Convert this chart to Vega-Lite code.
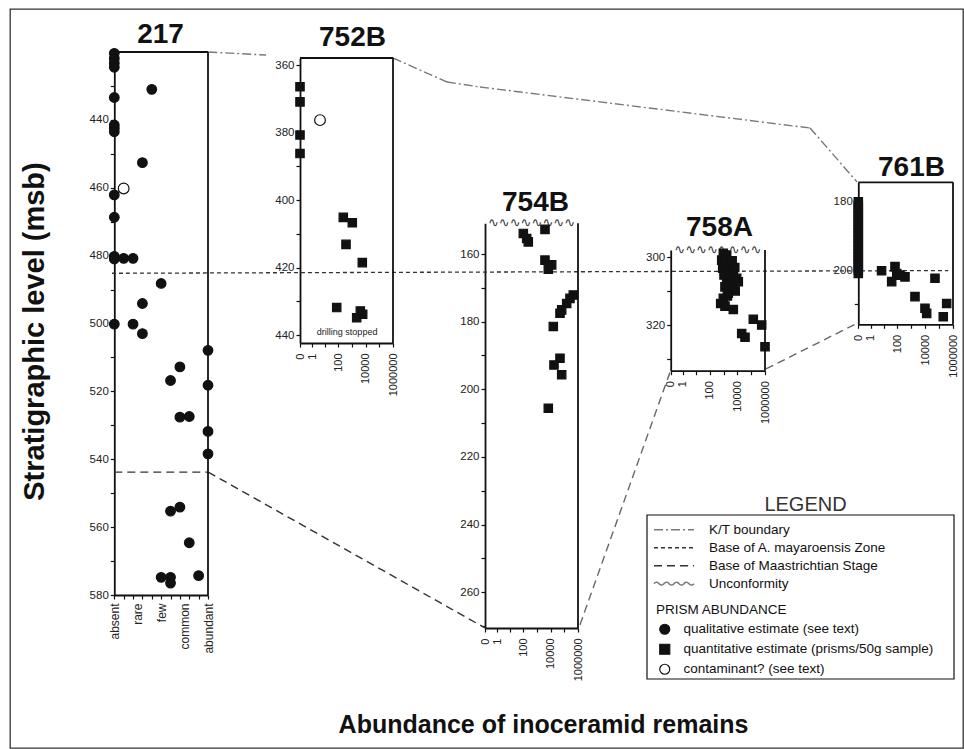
{
"$schema": "https://vega.github.io/schema/vega-lite/v6.json",
"width": 953, "height": 739,
"autosize": "none",
"padding": {"left": 10, "top": 9, "right": 1, "bottom": 1},
"background": "white",
"data": {"values": [{}]},
"datasets": {
"prisms": [
{"site":"217","abundance":0,"depth":420.4,"estimate":"qualitative"},
{"site":"217","abundance":0,"depth":421.9,"estimate":"qualitative"},
{"site":"217","abundance":0,"depth":423.3,"estimate":"qualitative"},
{"site":"217","abundance":0,"depth":424.5,"estimate":"qualitative"},
{"site":"217","abundance":4,"depth":431,"estimate":"qualitative"},
{"site":"217","abundance":0,"depth":433.4,"estimate":"qualitative"},
{"site":"217","abundance":0,"depth":441.5,"estimate":"qualitative"},
{"site":"217","abundance":0,"depth":442.5,"estimate":"qualitative"},
{"site":"217","abundance":0,"depth":443.5,"estimate":"qualitative"},
{"site":"217","abundance":3,"depth":452.6,"estimate":"qualitative"},
{"site":"217","abundance":1,"depth":460.2,"estimate":"contaminant"},
{"site":"217","abundance":0,"depth":462.1,"estimate":"qualitative"},
{"site":"217","abundance":0,"depth":468.7,"estimate":"qualitative"},
{"site":"217","abundance":0,"depth":480.2,"estimate":"qualitative"},
{"site":"217","abundance":0,"depth":481,"estimate":"qualitative"},
{"site":"217","abundance":1,"depth":480.8,"estimate":"qualitative"},
{"site":"217","abundance":2,"depth":480.8,"estimate":"qualitative"},
{"site":"217","abundance":5,"depth":488.2,"estimate":"qualitative"},
{"site":"217","abundance":3,"depth":494.1,"estimate":"qualitative"},
{"site":"217","abundance":0,"depth":500.2,"estimate":"qualitative"},
{"site":"217","abundance":2,"depth":500.2,"estimate":"qualitative"},
{"site":"217","abundance":3,"depth":503,"estimate":"qualitative"},
{"site":"217","abundance":10,"depth":507.9,"estimate":"qualitative"},
{"site":"217","abundance":7,"depth":512.8,"estimate":"qualitative"},
{"site":"217","abundance":6,"depth":516.8,"estimate":"qualitative"},
{"site":"217","abundance":10,"depth":518.2,"estimate":"qualitative"},
{"site":"217","abundance":7,"depth":527.6,"estimate":"qualitative"},
{"site":"217","abundance":8,"depth":527.4,"estimate":"qualitative"},
{"site":"217","abundance":10,"depth":531.8,"estimate":"qualitative"},
{"site":"217","abundance":10,"depth":538.4,"estimate":"qualitative"},
{"site":"217","abundance":7,"depth":554.1,"estimate":"qualitative"},
{"site":"217","abundance":6,"depth":555.3,"estimate":"qualitative"},
{"site":"217","abundance":8,"depth":564.6,"estimate":"qualitative"},
{"site":"217","abundance":5,"depth":574.8,"estimate":"qualitative"},
{"site":"217","abundance":6,"depth":574.8,"estimate":"qualitative"},
{"site":"217","abundance":6,"depth":576.5,"estimate":"qualitative"},
{"site":"217","abundance":9,"depth":574.3,"estimate":"qualitative"},
{"site":"752B","abundance":0,"depth":366.4,"estimate":"quantitative"},
{"site":"752B","abundance":0,"depth":370.9,"estimate":"quantitative"},
{"site":"752B","abundance":0,"depth":380.7,"estimate":"quantitative"},
{"site":"752B","abundance":0,"depth":386.2,"estimate":"quantitative"},
{"site":"752B","abundance":4.25,"depth":376.3,"estimate":"contaminant"},
{"site":"752B","abundance":225,"depth":405.1,"estimate":"quantitative"},
{"site":"752B","abundance":1030,"depth":406.7,"estimate":"quantitative"},
{"site":"752B","abundance":356,"depth":413.1,"estimate":"quantitative"},
{"site":"752B","abundance":5590,"depth":418.5,"estimate":"quantitative"},
{"site":"752B","abundance":74,"depth":431.8,"estimate":"quantitative"},
{"site":"752B","abundance":2170,"depth":434.8,"estimate":"quantitative"},
{"site":"752B","abundance":5970,"depth":433.8,"estimate":"quantitative"},
{"site":"752B","abundance":4000,"depth":432.8,"estimate":"quantitative"},
{"site":"754B","abundance":97,"depth":153.9,"estimate":"quantitative"},
{"site":"754B","abundance":172,"depth":155.4,"estimate":"quantitative"},
{"site":"754B","abundance":225,"depth":156.4,"estimate":"quantitative"},
{"site":"754B","abundance":3780,"depth":152.7,"estimate":"quantitative"},
{"site":"754B","abundance":3780,"depth":161.8,"estimate":"quantitative"},
{"site":"754B","abundance":11750,"depth":163.2,"estimate":"quantitative"},
{"site":"754B","abundance":6610,"depth":164.5,"estimate":"quantitative"},
{"site":"754B","abundance":451000,"depth":172.1,"estimate":"quantitative"},
{"site":"754B","abundance":258000,"depth":173.1,"estimate":"quantitative"},
{"site":"754B","abundance":148000,"depth":174.6,"estimate":"quantitative"},
{"site":"754B","abundance":63600,"depth":176.5,"estimate":"quantitative"},
{"site":"754B","abundance":47700,"depth":177.5,"estimate":"quantitative"},
{"site":"754B","abundance":15400,"depth":181.4,"estimate":"quantitative"},
{"site":"754B","abundance":47700,"depth":190.8,"estimate":"quantitative"},
{"site":"754B","abundance":17300,"depth":192.8,"estimate":"quantitative"},
{"site":"754B","abundance":63600,"depth":195.7,"estimate":"quantitative"},
{"site":"754B","abundance":6610,"depth":205.6,"estimate":"quantitative"},
{"site":"758A","abundance":960,"depth":298.8,"estimate":"quantitative"},
{"site":"758A","abundance":1690,"depth":299.3,"estimate":"quantitative"},
{"site":"758A","abundance":735,"depth":300.8,"estimate":"quantitative"},
{"site":"758A","abundance":1500,"depth":301.3,"estimate":"quantitative"},
{"site":"758A","abundance":2930,"depth":302.3,"estimate":"quantitative"},
{"site":"758A","abundance":868,"depth":303.2,"estimate":"quantitative"},
{"site":"758A","abundance":2210,"depth":303.8,"estimate":"quantitative"},
{"site":"758A","abundance":5085,"depth":304.3,"estimate":"quantitative"},
{"site":"758A","abundance":1080,"depth":305.2,"estimate":"quantitative"},
{"site":"758A","abundance":3890,"depth":305.7,"estimate":"quantitative"},
{"site":"758A","abundance":8955,"depth":306.2,"estimate":"quantitative"},
{"site":"758A","abundance":1690,"depth":307.2,"estimate":"quantitative"},
{"site":"758A","abundance":5085,"depth":307.7,"estimate":"quantitative"},
{"site":"758A","abundance":11700,"depth":307.2,"estimate":"quantitative"},
{"site":"758A","abundance":1270,"depth":308.7,"estimate":"quantitative"},
{"site":"758A","abundance":3890,"depth":309.2,"estimate":"quantitative"},
{"site":"758A","abundance":2210,"depth":310.6,"estimate":"quantitative"},
{"site":"758A","abundance":960,"depth":312.1,"estimate":"quantitative"},
{"site":"758A","abundance":622,"depth":313.6,"estimate":"quantitative"},
{"site":"758A","abundance":1270,"depth":314.4,"estimate":"quantitative"},
{"site":"758A","abundance":5085,"depth":315.4,"estimate":"quantitative"},
{"site":"758A","abundance":1400,"depth":300.0,"estimate":"quantitative"},
{"site":"758A","abundance":4200,"depth":301.0,"estimate":"quantitative"},
{"site":"758A","abundance":6500,"depth":303.0,"estimate":"quantitative"},
{"site":"758A","abundance":2600,"depth":306.5,"estimate":"quantitative"},
{"site":"758A","abundance":7000,"depth":309.9,"estimate":"quantitative"},
{"site":"758A","abundance":1900,"depth":311.4,"estimate":"quantitative"},
{"site":"758A","abundance":142000,"depth":318.3,"estimate":"quantitative"},
{"site":"758A","abundance":577000,"depth":320,"estimate":"quantitative"},
{"site":"758A","abundance":20600,"depth":322.5,"estimate":"quantitative"},
{"site":"758A","abundance":35700,"depth":323.6,"estimate":"quantitative"},
{"site":"758A","abundance":1000000,"depth":326.4,"estimate":"quantitative"},
{"site":"761B","abundance":0,"depth":180,"estimate":"quantitative"},
{"site":"761B","abundance":0,"depth":181,"estimate":"quantitative"},
{"site":"761B","abundance":0,"depth":182,"estimate":"quantitative"},
{"site":"761B","abundance":0,"depth":183,"estimate":"quantitative"},
{"site":"761B","abundance":0,"depth":184,"estimate":"quantitative"},
{"site":"761B","abundance":0,"depth":185,"estimate":"quantitative"},
{"site":"761B","abundance":0,"depth":186,"estimate":"quantitative"},
{"site":"761B","abundance":0,"depth":187,"estimate":"quantitative"},
{"site":"761B","abundance":0,"depth":188,"estimate":"quantitative"},
{"site":"761B","abundance":0,"depth":189,"estimate":"quantitative"},
{"site":"761B","abundance":0,"depth":190,"estimate":"quantitative"},
{"site":"761B","abundance":0,"depth":191,"estimate":"quantitative"},
{"site":"761B","abundance":0,"depth":192,"estimate":"quantitative"},
{"site":"761B","abundance":0,"depth":193,"estimate":"quantitative"},
{"site":"761B","abundance":0,"depth":194,"estimate":"quantitative"},
{"site":"761B","abundance":0,"depth":195,"estimate":"quantitative"},
{"site":"761B","abundance":0,"depth":196,"estimate":"quantitative"},
{"site":"761B","abundance":0,"depth":197,"estimate":"quantitative"},
{"site":"761B","abundance":0,"depth":198,"estimate":"quantitative"},
{"site":"761B","abundance":0,"depth":199,"estimate":"quantitative"},
{"site":"761B","abundance":0,"depth":200,"estimate":"quantitative"},
{"site":"761B","abundance":0,"depth":201,"estimate":"quantitative"},
{"site":"761B","abundance":7,"depth":200.2,"estimate":"quantitative"},
{"site":"761B","abundance":66,"depth":199.0,"estimate":"quantitative"},
{"site":"761B","abundance":38,"depth":203.4,"estimate":"quantitative"},
{"site":"761B","abundance":151,"depth":201.5,"estimate":"quantitative"},
{"site":"761B","abundance":347,"depth":202.0,"estimate":"quantitative"},
{"site":"761B","abundance":88,"depth":201.0,"estimate":"quantitative"},
{"site":"761B","abundance":1824,"depth":207.8,"estimate":"quantitative"},
{"site":"761B","abundance":9574,"depth":211.2,"estimate":"quantitative"},
{"site":"761B","abundance":12700,"depth":212.7,"estimate":"quantitative"},
{"site":"761B","abundance":50350,"depth":202.4,"estimate":"quantitative"},
{"site":"761B","abundance":350000,"depth":209.8,"estimate":"quantitative"},
{"site":"761B","abundance":199000,"depth":213.7,"estimate":"quantitative"}
],
"boundaries": [
{"boundary":"Base of A. mayaroensis Zone","depth":485.2},
{"boundary":"Base of Maastrichtian Stage","depth":543.8}
]
},
"config": {
 "font": "Liberation Sans",
 "view": {"stroke": "#333", "strokeWidth": 1.3},
 "axis": {"grid": false, "labelOverlap": false, "labelFlush": false, "labelFont": "Liberation Sans", "labelFontSize": 11.5, "labelColor": "#222", "tickColor": "#111", "domainColor": "#111", "domainWidth": 1.8, "tickWidth": 1.2, "tickSize": 4, "titleFont": "Liberation Sans", "titleColor": "#111"},
 "legend": {"labelFont": "Liberation Sans", "titleFont": "Liberation Sans"}
},
"layer": [
 {
  "data": {"name": "boundaries"},
  "transform": [{"filter": "datum.boundary == 'Base of A. mayaroensis Zone'"}],
  "mark": {"type": "rule", "strokeWidth": 1.3},
  "encoding": {
   "x": {"datum": -0.25, "type": "quantitative", "scale": {"domain":[0,10],"range":[104.3,198],"nice":false,"zero":false}, "axis": null},
   "x2": {"datum": 89},
   "y": {"field": "depth", "type": "quantitative", "scale": {"domain":[420,580],"range":[43,586],"nice":false,"zero":false}, "axis": null},
   "y2": {"datum": 484.4},
   "color": {"field": "boundary", "type": "nominal", "scale": {"domain":["K/T boundary","Base of A. mayaroensis Zone","Base of Maastrichtian Stage","Unconformity"],"range":["#7a7a7a","#333333","#333333","#7a7a7a"]}, "legend": {"orient":"none","legendX":643,"legendY":512,"title":null,"symbolType":"stroke","symbolSize":1600,"symbolStrokeWidth":1.5,"clipHeight":17.3,"labelOffset":14,"labelFontSize":13.5,"padding":0,"rowPadding":0,"labelLimit":320,"labelColor":"#111","encode":{"symbols":{"update":{"shape":{"signal":"datum.value === 'Unconformity' ? 'M-1,0 Q-0.875,-0.14 -0.75,0 T-0.5,0 T-0.25,0 T0,0 T0.25,0 T0.5,0 T0.75,0 T1,0' : 'stroke'"},"fill":{"value":"transparent"}}}}}},
   "strokeDash": {"field": "boundary", "type": "nominal", "scale": {"domain":["K/T boundary","Base of A. mayaroensis Zone","Base of Maastrichtian Stage","Unconformity"],"range":[[9,3,2,3],[4,3],[8,5],[1,0]]}, "legend": {"orient":"none","legendX":643,"legendY":512,"title":null,"symbolType":"stroke","symbolSize":1600,"symbolStrokeWidth":1.5,"clipHeight":17.3,"labelOffset":14,"labelFontSize":13.5,"padding":0,"rowPadding":0,"labelLimit":320,"labelColor":"#111","encode":{"symbols":{"update":{"shape":{"signal":"datum.value === 'Unconformity' ? 'M-1,0 Q-0.875,-0.14 -0.75,0 T-0.5,0 T-0.25,0 T0,0 T0.25,0 T0.5,0 T0.75,0 T1,0' : 'stroke'"},"fill":{"value":"transparent"}}}}}}
  }
 },
 {
  "data": {"name": "boundaries"},
  "transform": [{"filter": "datum.boundary == 'Base of Maastrichtian Stage'"}],
  "mark": {"type": "rule", "strokeWidth": 1.4},
  "encoding": {
   "x": {"datum": 0, "type": "quantitative", "scale": {"domain":[0,10],"range":[104.3,198],"nice":false,"zero":false},
     "axis": {"orient": "bottom", "offset": -153, "values": [0,1,2,3,4,5,6,7,8,9,10], "labels": false, "ticks": true, "domain": true, "title": null}},
   "x2": {"datum": 10},
   "y": {"field": "depth", "type": "quantitative", "scale": {"domain":[420,580],"range":[43,586],"nice":false,"zero":false}, "axis": null},
   "color": {"field": "boundary", "type": "nominal"},
   "strokeDash": {"field": "boundary", "type": "nominal"}
  }
 },
 {"mark": {"type": "rule", "strokeWidth": 1.4}, "encoding": {"x": {"datum": 10.03, "type": "quantitative", "scale": {"domain":[0,10],"range":[104.3,198],"nice":false,"zero":false}, "axis": null}, "x2": {"datum": 16.2}, "y": {"datum": 420, "type": "quantitative", "scale": {"domain":[420,580],"range":[43,586],"nice":false,"zero":false}, "axis": null}, "y2": {"datum": 420.9}, "color": {"datum": "K/T boundary", "type": "nominal"}, "strokeDash": {"datum": "K/T boundary", "type": "nominal"}}},
 {"mark": {"type": "rule", "strokeWidth": 1.4}, "encoding": {"x": {"datum": 29.74, "type": "quantitative", "scale": {"domain":[0,10],"range":[104.3,198],"nice":false,"zero":false}, "axis": null}, "x2": {"datum": 35.5}, "y": {"datum": 421.77, "type": "quantitative", "scale": {"domain":[420,580],"range":[43,586],"nice":false,"zero":false}, "axis": null}, "y2": {"datum": 428.84}, "color": {"datum": "K/T boundary", "type": "nominal"}, "strokeDash": {"datum": "K/T boundary", "type": "nominal"}}},
 {"mark": {"type": "rule", "strokeWidth": 1.4}, "encoding": {"x": {"datum": 35.5, "type": "quantitative", "scale": {"domain":[0,10],"range":[104.3,198],"nice":false,"zero":false}, "axis": null}, "x2": {"datum": 39.03}, "y": {"datum": 428.84, "type": "quantitative", "scale": {"domain":[420,580],"range":[43,586],"nice":false,"zero":false}, "axis": null}, "y2": {"datum": 430.31}, "color": {"datum": "K/T boundary", "type": "nominal"}, "strokeDash": {"datum": "K/T boundary", "type": "nominal"}}},
 {"mark": {"type": "rule", "strokeWidth": 1.4}, "encoding": {"x": {"datum": 39.03, "type": "quantitative", "scale": {"domain":[0,10],"range":[104.3,198],"nice":false,"zero":false}, "axis": null}, "x2": {"datum": 74.25}, "y": {"datum": 430.31, "type": "quantitative", "scale": {"domain":[420,580],"range":[43,586],"nice":false,"zero":false}, "axis": null}, "y2": {"datum": 442.39}, "color": {"datum": "K/T boundary", "type": "nominal"}, "strokeDash": {"datum": "K/T boundary", "type": "nominal"}}},
 {"mark": {"type": "rule", "strokeWidth": 1.4}, "encoding": {"x": {"datum": 74.25, "type": "quantitative", "scale": {"domain":[0,10],"range":[104.3,198],"nice":false,"zero":false}, "axis": null}, "x2": {"datum": 79.27}, "y": {"datum": 442.39, "type": "quantitative", "scale": {"domain":[420,580],"range":[43,586],"nice":false,"zero":false}, "axis": null}, "y2": {"datum": 458.3}, "color": {"datum": "K/T boundary", "type": "nominal"}, "strokeDash": {"datum": "K/T boundary", "type": "nominal"}}},
 {"mark": {"type": "rule", "strokeWidth": 1.4}, "encoding": {"x": {"datum": 10.03, "type": "quantitative", "scale": {"domain":[0,10],"range":[104.3,198],"nice":false,"zero":false}, "axis": null}, "x2": {"datum": 39.56}, "y": {"datum": 543.8, "type": "quantitative", "scale": {"domain":[420,580],"range":[43,586],"nice":false,"zero":false}, "axis": null}, "y2": {"datum": 589.7}, "color": {"datum": "Base of Maastrichtian Stage", "type": "nominal"}, "strokeDash": {"datum": "Base of Maastrichtian Stage", "type": "nominal"}}},
 {"mark": {"type": "rule", "strokeWidth": 1.4, "opacity": 0.75}, "encoding": {"x": {"datum": 49.7, "type": "quantitative", "scale": {"domain":[0,10],"range":[104.3,198],"nice":false,"zero":false}, "axis": null}, "x2": {"datum": 59.31}, "y": {"datum": 588.8, "type": "quantitative", "scale": {"domain":[420,580],"range":[43,586],"nice":false,"zero":false}, "axis": null}, "y2": {"datum": 514.3}, "color": {"datum": "Base of Maastrichtian Stage", "type": "nominal"}, "strokeDash": {"datum": "Base of Maastrichtian Stage", "type": "nominal"}}},
 {"mark": {"type": "rule", "strokeWidth": 1.4, "opacity": 0.75}, "encoding": {"x": {"datum": 69.55, "type": "quantitative", "scale": {"domain":[0,10],"range":[104.3,198],"nice":false,"zero":false}, "axis": null}, "x2": {"datum": 79.37}, "y": {"datum": 513.4, "type": "quantitative", "scale": {"domain":[420,580],"range":[43,586],"nice":false,"zero":false}, "axis": null}, "y2": {"datum": 499.8}, "color": {"datum": "Base of Maastrichtian Stage", "type": "nominal"}, "strokeDash": {"datum": "Base of Maastrichtian Stage", "type": "nominal"}}},
 {
  "mark": {"type": "rule", "strokeWidth": 1.8, "color": "#111"},
  "encoding": {
   "x": {"datum": 0, "type": "quantitative", "scale": {"domain":[0,10],"range":[104.3,198],"nice":false,"zero":false},
     "axis": {"orient": "bottom", "offset": -153, "values": [0,2.5,5,7.5,10], "labelExpr": "datum.value == 0 ? 'absent' : datum.value == 2.5 ? 'rare' : datum.value == 5 ? 'few' : datum.value == 7.5 ? 'common' : 'abundant'", "ticks": false, "domain": false, "labelAngle": -90, "labelPadding": 8, "labelFontSize": 12, "title": null}},
   "x2": {"datum": 10},
   "y": {"datum": 420, "type": "quantitative", "scale": {"domain":[420,580],"range":[43,586],"nice":false,"zero":false}, "axis": null}
  }
 },
 {
  "mark": {"type": "rule", "strokeWidth": 1.8, "color": "#111"},
  "encoding": {
   "x": {"datum": 10, "type": "quantitative", "scale": {"domain":[0,10],"range":[104.3,198],"nice":false,"zero":false},
     "axis": {"orient": "top", "offset": -43, "ticks": false, "labels": false, "domain": false, "title": "217", "titleFontSize": 28, "titleFontWeight": "bold", "titleX": 150, "titleY": -10, "titleBaseline": "alphabetic", "titleAlign": "center"}},
   "y": {"datum": 420, "type": "quantitative", "scale": {"domain":[420,580],"range":[43,586],"nice":false,"zero":false}, "axis": null},
   "y2": {"datum": 580}
  }
 },
 {
  "data": {"name": "prisms"},
  "transform": [{"filter": "datum.site == '217'"}],
  "mark": {"type": "point", "filled": true, "strokeWidth": 1.2, "opacity": 1},
  "encoding": {
   "x": {"field": "abundance", "type": "quantitative", "scale": {"domain":[0,10],"range":[104.3,198],"nice":false,"zero":false}, "axis": null},
   "y": {"field": "depth", "type": "quantitative", "scale": {"domain":[420,580],"range":[43,586],"nice":false,"zero":false},
     "axis": {"orient": "left", "offset": -104.3, "values": [420,430,440,450,460,470,480,490,500,510,520,530,540,550,560,570,580], "labelExpr": "datum.value % 20 == 0 && datum.value > 420 ? datum.label : ''", "labelPadding": 2, "title": "Stratigraphic level (msb)", "titleFontSize": 29, "titleFontWeight": "bold", "titleX": -71.3, "titleY": 322, "titleBaseline": "alphabetic", "titleAngle": 270, "titleAlign": "center"}},
   "shape": {"field": "estimate", "type": "nominal", "scale": {"domain":["qualitative","quantitative","contaminant"],"range":["circle","square","circle"]}, "legend": {"orient":"none","legendX":646,"legendY":594,"title":"PRISM ABUNDANCE","titleFontSize":13.5,"titleFontWeight":"normal","titleColor":"#111","titlePadding":3,"titleAnchor":"start","symbolSize":100,"symbolOffset":2,"symbolStrokeWidth":1.2,"clipHeight":19.5,"labelOffset":12,"labelFontSize":13.5,"padding":0,"rowPadding":0,"labelLimit":320,"labelColor":"#111","labelExpr":"datum.value == 'qualitative' ? 'qualitative estimate (see text)' : datum.value == 'quantitative' ? 'quantitative estimate (prisms/50g sample)' : 'contaminant? (see text)'"}},
   "fill": {"field": "estimate", "type": "nominal", "scale": {"domain":["qualitative","quantitative","contaminant"],"range":["#111111","#111111","#ffffff"]}, "legend": {"orient":"none","legendX":646,"legendY":594,"title":"PRISM ABUNDANCE","titleFontSize":13.5,"titleFontWeight":"normal","titleColor":"#111","titlePadding":3,"titleAnchor":"start","symbolSize":100,"symbolOffset":2,"symbolStrokeWidth":1.2,"clipHeight":19.5,"labelOffset":12,"labelFontSize":13.5,"padding":0,"rowPadding":0,"labelLimit":320,"labelColor":"#111","labelExpr":"datum.value == 'qualitative' ? 'qualitative estimate (see text)' : datum.value == 'quantitative' ? 'quantitative estimate (prisms/50g sample)' : 'contaminant? (see text)'"}},
   "stroke": {"field": "estimate", "type": "nominal", "scale": {"domain":["qualitative","quantitative","contaminant"],"range":["#111111","#111111","#111111"]}, "legend": {"orient":"none","legendX":646,"legendY":594,"title":"PRISM ABUNDANCE","titleFontSize":13.5,"titleFontWeight":"normal","titleColor":"#111","titlePadding":3,"titleAnchor":"start","symbolSize":100,"symbolOffset":2,"symbolStrokeWidth":1.2,"clipHeight":19.5,"labelOffset":12,"labelFontSize":13.5,"padding":0,"rowPadding":0,"labelLimit":320,"labelColor":"#111","labelExpr":"datum.value == 'qualitative' ? 'qualitative estimate (see text)' : datum.value == 'quantitative' ? 'quantitative estimate (prisms/50g sample)' : 'contaminant? (see text)'"}},
   "size": {"field": "estimate", "type": "nominal", "scale": {"domain":["contaminant","qualitative","quantitative"],"range":[115,70,80]}, "legend": null}
  }
 },
 {
  "mark": {"type": "rule", "strokeWidth": 1.8, "color": "#111"},
  "encoding": {
   "x": {"datum": 0, "type": "quantitative", "scale": {"type":"symlog","constant":0.15,"domain":[0,1000000],"range":[290,383],"nice":false,"zero":false},
     "axis": {"orient": "top", "offset": -49, "ticks": false, "labels": false, "domain": false, "title": "752B", "titleFontSize": 28, "titleFontWeight": "bold", "titleX": 342, "titleY": -13, "titleBaseline": "alphabetic", "titleAlign": "center"}},
   "x2": {"datum": 1000000},
   "y": {"datum": 357.9, "type": "quantitative", "scale": {"domain":[357.9,442.3],"range":[49,334],"nice":false,"zero":false}, "axis": null}
  }
 },
 {
  "mark": {"type": "rule", "strokeWidth": 1.8, "color": "#111"},
  "encoding": {
   "x": {"datum": 1000000, "type": "quantitative", "scale": {"type":"symlog","constant":0.15,"domain":[0,1000000],"range":[290,383],"nice":false,"zero":false}, "axis": null},
   "y": {"datum": 357.9, "type": "quantitative", "scale": {"domain":[357.9,442.3],"range":[49,334],"nice":false,"zero":false}, "axis": null},
   "y2": {"datum": 442.3}
  }
 },
 {
  "mark": {"type": "text", "text": "drilling stopped", "fontSize": 9, "fill": "#222", "baseline": "middle", "align": "center"},
  "encoding": {
   "x": {"datum": 430, "type": "quantitative", "scale": {"type":"symlog","constant":0.15,"domain":[0,1000000],"range":[290,383],"nice":false,"zero":false}, "axis": null},
   "y": {"datum": 439.1, "type": "quantitative", "scale": {"domain":[357.9,442.3],"range":[49,334],"nice":false,"zero":false}, "axis": null}
  }
 },
 {
  "data": {"name": "prisms"},
  "transform": [{"filter": "datum.site == '752B'"}],
  "mark": {"type": "point", "filled": true, "strokeWidth": 1.2, "opacity": 1},
  "encoding": {
   "x": {"field": "abundance", "type": "quantitative", "scale": {"type":"symlog","constant":0.15,"domain":[0,1000000],"range":[290,383],"nice":false,"zero":false},
     "axis": {"orient": "bottom", "offset": -405, "values": [0,1,10,100,1000,10000,100000,1000000], "labelExpr": "indexof([0,1,100,10000,1000000], datum.value) >= 0 ? format(datum.value, 'd') : ''", "labelAngle": -90, "labelPadding": 6, "labelFontSize": 11, "title": null}},
   "y": {"field": "depth", "type": "quantitative", "scale": {"domain":[357.9,442.3],"range":[49,334],"nice":false,"zero":false},
     "axis": {"orient": "left", "offset": -290, "values": [360,370,380,390,400,410,420,430,440], "labelExpr": "datum.value % 20 == 0 ? datum.label : ''", "labelPadding": 2, "title": null}},
   "shape": {"field": "estimate", "type": "nominal"},
   "fill": {"field": "estimate", "type": "nominal"},
   "stroke": {"field": "estimate", "type": "nominal"},
   "size": {"field": "estimate", "type": "nominal", "legend": null}
  }
 },
 {
  "mark": {"type": "text", "text": "∿∿∿∿∿∿∿∿", "font": "DejaVu Sans", "fontSize": 13, "fill": "#333", "baseline": "middle", "align": "center"},
  "encoding": {
   "x": {"datum": 387, "type": "quantitative", "scale": {"type":"symlog","constant":0.15,"domain":[0,1000000],"range":[475,568],"nice":false,"zero":false},
     "axis": {"orient": "top", "offset": -214.3, "ticks": false, "labels": false, "domain": false, "title": "754B", "titleFontSize": 28, "titleFontWeight": "bold", "titleX": 525, "titleY": -13.3, "titleBaseline": "alphabetic", "titleAlign": "center"}},
   "y": {"datum": 150.9, "type": "quantitative", "scale": {"domain":[150.9,270.6],"range":[214.3,619],"nice":false,"zero":false}, "axis": null}
  }
 },
 {
  "mark": {"type": "rule", "strokeWidth": 1.8, "color": "#111"},
  "encoding": {
   "x": {"datum": 1000000, "type": "quantitative", "scale": {"type":"symlog","constant":0.15,"domain":[0,1000000],"range":[475,568],"nice":false,"zero":false}, "axis": null},
   "y": {"datum": 150.9, "type": "quantitative", "scale": {"domain":[150.9,270.6],"range":[214.3,619],"nice":false,"zero":false}, "axis": null},
   "y2": {"datum": 270.6}
  }
 },
 {
  "data": {"name": "prisms"},
  "transform": [{"filter": "datum.site == '754B'"}],
  "mark": {"type": "point", "filled": true, "strokeWidth": 1.2, "opacity": 1},
  "encoding": {
   "x": {"field": "abundance", "type": "quantitative", "scale": {"type":"symlog","constant":0.15,"domain":[0,1000000],"range":[475,568],"nice":false,"zero":false},
     "axis": {"orient": "bottom", "offset": -120, "values": [0,1,10,100,1000,10000,100000,1000000], "labelExpr": "indexof([0,1,100,10000,1000000], datum.value) >= 0 ? format(datum.value, 'd') : ''", "labelAngle": -90, "labelPadding": 6, "labelFontSize": 11, "title": "Abundance of inoceramid remains", "titleFontSize": 25, "titleFontWeight": "bold", "titleX": 533, "titleY": 104, "titleBaseline": "alphabetic", "titleAlign": "center", "titleAngle": 0}},
   "y": {"field": "depth", "type": "quantitative", "scale": {"domain":[150.9,270.6],"range":[214.3,619],"nice":false,"zero":false},
     "axis": {"orient": "left", "offset": -475, "values": [160,170,180,190,200,210,220,230,240,250,260,270], "labelExpr": "datum.value % 20 == 0 ? datum.label : ''", "labelPadding": 2, "title": null}},
   "shape": {"field": "estimate", "type": "nominal"},
   "fill": {"field": "estimate", "type": "nominal"},
   "stroke": {"field": "estimate", "type": "nominal"},
   "size": {"field": "estimate", "type": "nominal", "legend": null}
  }
 },
 {
  "mark": {"type": "text", "text": "∿∿∿∿∿∿∿∿", "font": "DejaVu Sans", "fontSize": 13, "fill": "#333", "baseline": "middle", "align": "center"},
  "encoding": {
   "x": {"datum": 387, "type": "quantitative", "scale": {"type":"symlog","constant":0.15,"domain":[0,1000000],"range":[660.7,755],"nice":false,"zero":false},
     "axis": {"orient": "top", "offset": -241, "ticks": false, "labels": false, "domain": false, "title": "758A", "titleFontSize": 28, "titleFontWeight": "bold", "titleX": 709, "titleY": -15, "titleBaseline": "alphabetic", "titleAlign": "center"}},
   "y": {"datum": 297.8, "type": "quantitative", "scale": {"domain":[297.8,333.5],"range":[241,361.7],"nice":false,"zero":false}, "axis": null}
  }
 },
 {
  "mark": {"type": "rule", "strokeWidth": 1.8, "color": "#111"},
  "encoding": {
   "x": {"datum": 1000000, "type": "quantitative", "scale": {"type":"symlog","constant":0.15,"domain":[0,1000000],"range":[660.7,755],"nice":false,"zero":false}, "axis": null},
   "y": {"datum": 297.8, "type": "quantitative", "scale": {"domain":[297.8,333.5],"range":[241,361.7],"nice":false,"zero":false}, "axis": null},
   "y2": {"datum": 333.5}
  }
 },
 {
  "data": {"name": "prisms"},
  "transform": [{"filter": "datum.site == '758A'"}],
  "mark": {"type": "point", "filled": true, "strokeWidth": 1.2, "opacity": 1},
  "encoding": {
   "x": {"field": "abundance", "type": "quantitative", "scale": {"type":"symlog","constant":0.15,"domain":[0,1000000],"range":[660.7,755],"nice":false,"zero":false},
     "axis": {"orient": "bottom", "offset": -377.3, "values": [0,1,10,100,1000,10000,100000,1000000], "labelExpr": "indexof([0,1,100,10000,1000000], datum.value) >= 0 ? format(datum.value, 'd') : ''", "labelAngle": -90, "labelPadding": 6, "labelFontSize": 11, "title": null}},
   "y": {"field": "depth", "type": "quantitative", "scale": {"domain":[297.8,333.5],"range":[241,361.7],"nice":false,"zero":false},
     "axis": {"orient": "left", "offset": -660.7, "values": [300,310,320,330], "labelExpr": "datum.value % 20 == 0 ? datum.label : ''", "labelPadding": 2, "title": null}},
   "shape": {"field": "estimate", "type": "nominal"},
   "fill": {"field": "estimate", "type": "nominal"},
   "stroke": {"field": "estimate", "type": "nominal"},
   "size": {"field": "estimate", "type": "nominal", "legend": null}
  }
 },
 {
  "mark": {"type": "rule", "strokeWidth": 1.8, "color": "#111"},
  "encoding": {
   "x": {"datum": 0, "type": "quantitative", "scale": {"type":"symlog","constant":0.15,"domain":[0,1000000],"range":[848.3,943],"nice":false,"zero":false},
     "axis": {"orient": "top", "offset": -173.3, "ticks": false, "labels": false, "domain": false, "title": "761B", "titleFontSize": 28, "titleFontWeight": "bold", "titleX": 901, "titleY": -7.3, "titleBaseline": "alphabetic", "titleAlign": "center"}},
   "x2": {"datum": 1000000},
   "y": {"datum": 174.3, "type": "quantitative", "scale": {"domain":[174.3,215.9],"range":[173.3,315.3],"nice":false,"zero":false}, "axis": null}
  }
 },
 {
  "mark": {"type": "rule", "strokeWidth": 1.8, "color": "#111"},
  "encoding": {
   "x": {"datum": 1000000, "type": "quantitative", "scale": {"type":"symlog","constant":0.15,"domain":[0,1000000],"range":[848.3,943],"nice":false,"zero":false}, "axis": null},
   "y": {"datum": 174.3, "type": "quantitative", "scale": {"domain":[174.3,215.9],"range":[173.3,315.3],"nice":false,"zero":false}, "axis": null},
   "y2": {"datum": 215.9}
  }
 },
 {
  "data": {"name": "prisms"},
  "transform": [{"filter": "datum.site == '761B'"}],
  "mark": {"type": "point", "filled": true, "strokeWidth": 1.2, "opacity": 1},
  "encoding": {
   "x": {"field": "abundance", "type": "quantitative", "scale": {"type":"symlog","constant":0.15,"domain":[0,1000000],"range":[848.3,943],"nice":false,"zero":false},
     "axis": {"orient": "bottom", "offset": -423.7, "values": [0,1,10,100,1000,10000,100000,1000000], "labelExpr": "indexof([0,1,100,10000,1000000], datum.value) >= 0 ? format(datum.value, 'd') : ''", "labelAngle": -90, "labelPadding": 6, "labelFontSize": 11, "title": null}},
   "y": {"field": "depth", "type": "quantitative", "scale": {"domain":[174.3,215.9],"range":[173.3,315.3],"nice":false,"zero":false},
     "axis": {"orient": "left", "offset": -848.3, "values": [180,190,200,210], "labelExpr": "datum.value % 20 == 0 ? datum.label : ''", "labelPadding": 2, "title": null}},
   "shape": {"field": "estimate", "type": "nominal"},
   "fill": {"field": "estimate", "type": "nominal"},
   "stroke": {"field": "estimate", "type": "nominal"},
   "size": {"field": "estimate", "type": "nominal", "legend": null}
  }
 },
 {
  "mark": {"type": "rect", "filled": false, "stroke": "#111", "strokeWidth": 1.2},
  "encoding": {
   "x": {"datum": 0, "type": "quantitative", "scale": {"domain":[0,1],"range":[637,944],"nice":false,"zero":false},
     "axis": {"orient": "top", "offset": -506, "ticks": false, "labels": false, "domain": false, "title": "LEGEND", "titleFontSize": 20, "titleFontWeight": "normal", "titleColor": "#333", "titleX": 795, "titleY": -5, "titleBaseline": "alphabetic", "titleAlign": "center"}},
   "x2": {"datum": 1},
   "y": {"datum": 0, "type": "quantitative", "scale": {"domain":[0,1],"range":[506,670],"nice":false,"zero":false}, "axis": null},
   "y2": {"datum": 1}
  }
 }
],
"resolve": {"scale": {"x": "independent", "y": "independent"}, "axis": {"x": "independent", "y": "independent"}}
}
